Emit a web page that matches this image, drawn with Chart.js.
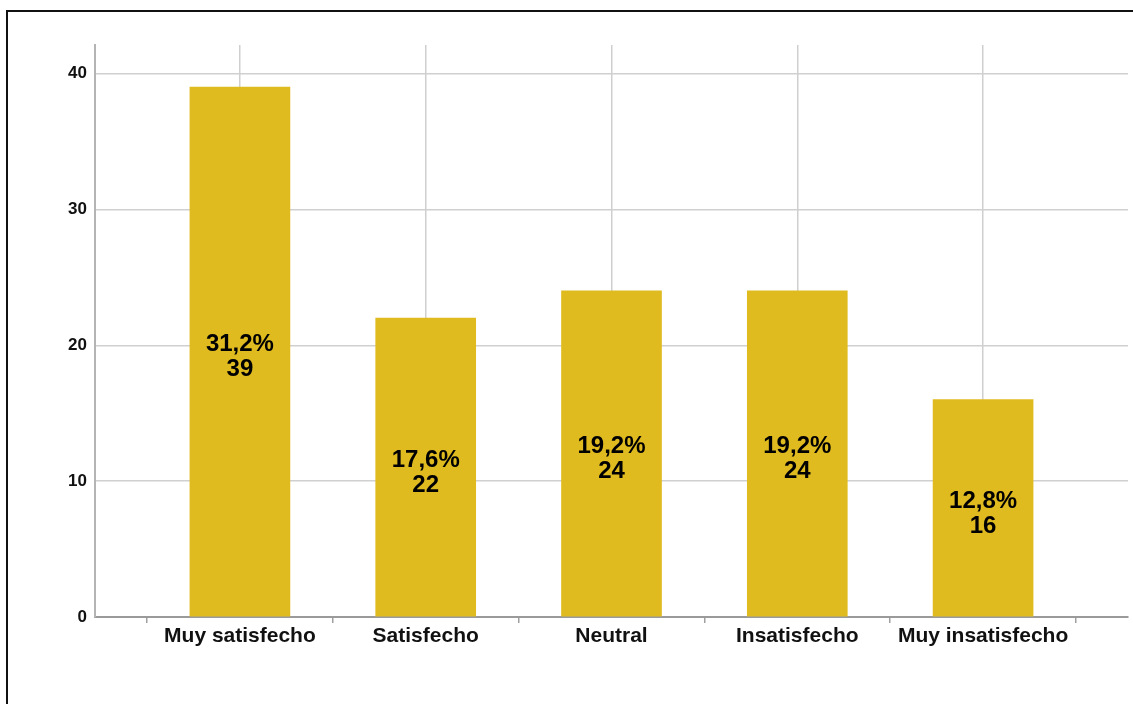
<!DOCTYPE html>
<html>
<head>
<meta charset="utf-8">
<script src="https://cdn.jsdelivr.net/npm/chart.js@4/dist/chart.umd.min.js"></script>
<style>
  html, body { margin: 0; padding: 0; background: #fff; }
  #wrap { position: relative; width: 1133px; height: 704px; overflow: hidden; }
  #frame { position: absolute; left: 6px; top: 10px; right: -10px; bottom: -10px;
           border-left: 2px solid #111; border-top: 2px solid #111; }
  #chart { position: absolute; left: 0; top: 0; }
</style>
</head>
<body>
<div id="wrap">
  <div id="frame"></div>
  <canvas id="chart" width="1133" height="704"></canvas>
</div>
<script>
// survey answers (counts) and their share of the 125 replies
var categories = ["Muy satisfecho", "Satisfecho", "Neutral", "Insatisfecho", "Muy insatisfecho"];
var counts = [39, 22, 24, 24, 16];
var percents = ["31,2%", "17,6%", "19,2%", "19,2%", "12,8%"];
var yTicks = [0, 10, 20, 30, 40];

var barColor = "#e0bb20";
var font = "'Liberation Sans', Arial, sans-serif";

// bars sit on a linear x axis so there is room on both sides of the first/last bar
var points = counts.map(function (v, i) { return { x: i, y: v }; });

// two-line label (percent / count) in the middle of each bar
var barLabels = {
  id: 'barLabels',
  afterDatasetsDraw: function (chart) {
    var ctx = chart.ctx;
    var meta = chart.getDatasetMeta(0);
    ctx.save();
    ctx.fillStyle = "#000";
    ctx.font = "bold 24px " + font;
    ctx.textAlign = "center";
    ctx.textBaseline = "middle";
    meta.data.forEach(function (bar, i) {
      var mid = (bar.y + bar.base) / 2 + 5;
      ctx.fillText(percents[i], bar.x, mid - 12);
      ctx.fillText(String(counts[i]), bar.x, mid + 13);
    });
    ctx.restore();
  }
};

window.onload = function () {
  var ctx = document.getElementById('chart').getContext('2d');

  new Chart(ctx, {
    type: 'bar',
    data: {
      datasets: [{
        data: points,
        backgroundColor: barColor,
        borderWidth: 0,
        barThickness: 100
      }]
    },
    options: {
      responsive: false,
      animation: false,
      devicePixelRatio: 1,
      layout: { padding: { top: 45, right: 5, left: 0, bottom: 0 } },
      plugins: { legend: { display: false }, tooltip: { enabled: false } },
      scales: {
        x: {
          type: 'linear',
          offset: false,
          min: -0.78,
          max: 4.78,
          afterBuildTicks: function (scale) {
            // bar centres carry the labels, half steps carry the small tick marks
            var t = [];
            for (var i = 0; i < categories.length; i++) {
              t.push({ value: i - 0.5 });
              t.push({ value: i });
            }
            t.push({ value: categories.length - 0.5 });
            scale.ticks = t;
          },
          afterFit: function (scale) { scale.height = 704 - 617; },
          grid: {
            offset: false,
            color: function (c) { return c.tick && Number.isInteger(c.tick.value) ? '#cfcfcf' : 'rgba(0,0,0,0)'; },
            tickColor: function (c) { return c.tick && Number.isInteger(c.tick.value) ? 'rgba(0,0,0,0)' : '#a0a0a0'; },
            lineWidth: 1.5,
            tickLength: 6
          },
          border: { color: '#9a9a9a', width: 2 },
          ticks: {
            autoSkip: false,
            maxRotation: 0,
            padding: 1,
            color: '#111',
            font: { family: font, size: 21, weight: 'bold' },
            callback: function (v) { return Number.isInteger(v) ? categories[v] : ''; }
          }
        },
        y: {
          min: 0,
          max: 42.1,
          afterBuildTicks: function (scale) {
            scale.ticks = yTicks.map(function (v) { return { value: v }; });
          },
          afterFit: function (scale) { scale.width = 95; },
          grid: { color: '#d0d0d0', lineWidth: 1.5, tickLength: 0 },
          border: { color: '#b4b4b4', width: 2 },
          ticks: {
            padding: 8,
            color: '#111',
            font: { family: font, size: 17, weight: 'bold' }
          }
        }
      }
    },
    plugins: [barLabels]
  });
};
</script>
</body>
</html>
